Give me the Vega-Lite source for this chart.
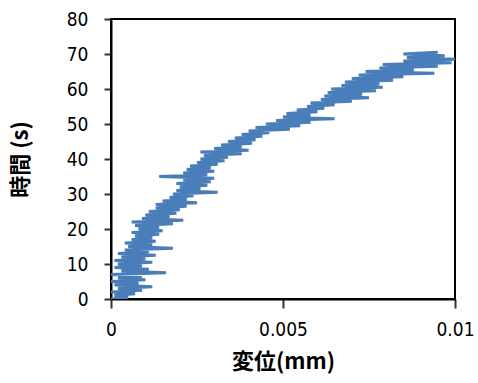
{
  "$schema": "https://vega.github.io/schema/vega-lite/v6.json",
  "width": 344,
  "height": 280,
  "autosize": "none",
  "padding": {"left": 111, "top": 19, "right": 23, "bottom": 84},
  "background": "white",
  "config": {
    "view": {"stroke": "black", "strokeWidth": 2},
    "axis": {
      "grid": false,
      "domainColor": "black",
      "domainWidth": 2,
      "tickColor": "#333",
      "tickWidth": 2,
      "labelFont": "Liberation Sans Narrow, DejaVu Sans Condensed, sans-serif",
      "labelFontSize": 19,
      "labelColor": "black",
      "titleFont": "Noto Sans CJK JP",
      "titleFontSize": 22,
      "titleFontWeight": "bold",
      "titleColor": "black"
    }
  },
  "data": {
    "values": [
      {"t":0,"d":0},{"t":0.5,"d":0.0005},{"t":1,"d":0.0001},{"t":1.5,"d":0.0007},{"t":2,"d":0},{"t":2.5,"d":0.0009},{"t":3,"d":0.0002},{"t":3.5,"d":0.0012},{"t":4,"d":0.0001},{"t":4.5,"d":0.0008},
      {"t":5,"d":0},{"t":5.5,"d":0.001},{"t":6,"d":0.0002},{"t":6.5,"d":0.0009},{"t":7,"d":0},{"t":7.5,"d":0.0016},{"t":8,"d":0.0003},{"t":8.5,"d":0.0011},{"t":9,"d":0.0001},{"t":9.5,"d":0.0009},
      {"t":10,"d":0.0002},{"t":10.5,"d":0.0012},{"t":11,"d":0.0001},{"t":11.5,"d":0.001},{"t":12,"d":0.0003},{"t":12.5,"d":0.0013},{"t":13,"d":0.0002},{"t":13.5,"d":0.0011},{"t":14,"d":0.0004},{"t":14.5,"d":0.0018},
      {"t":15,"d":0.0005},{"t":15.5,"d":0.0012},{"t":16,"d":0.0004},{"t":16.5,"d":0.0013},{"t":17,"d":0.0006},{"t":17.5,"d":0.0012},{"t":18,"d":0.0007},{"t":18.5,"d":0.0014},{"t":19,"d":0.0006},{"t":19.5,"d":0.0015},
      {"t":20,"d":0.0008},{"t":20.5,"d":0.0014},{"t":21,"d":0.0007},{"t":21.5,"d":0.0018},{"t":22,"d":0.0006},{"t":22.5,"d":0.0021},{"t":23,"d":0.0009},{"t":23.5,"d":0.0017},{"t":24,"d":0.001},{"t":24.5,"d":0.0019},
      {"t":25,"d":0.0011},{"t":25.5,"d":0.002},{"t":26,"d":0.0013},{"t":26.5,"d":0.0022},{"t":27,"d":0.0013},{"t":27.5,"d":0.0025},{"t":28,"d":0.0015},{"t":28.5,"d":0.0022},{"t":29,"d":0.0017},{"t":29.5,"d":0.0024},
      {"t":30,"d":0.0018},{"t":30.5,"d":0.0031},{"t":31,"d":0.0019},{"t":31.5,"d":0.0026},{"t":32,"d":0.002},{"t":32.5,"d":0.0028},{"t":33,"d":0.0019},{"t":33.5,"d":0.0029},{"t":34,"d":0.0021},{"t":34.5,"d":0.003},
      {"t":35,"d":0.0014},{"t":35.5,"d":0.0028},{"t":36,"d":0.0021},{"t":36.5,"d":0.003},{"t":37,"d":0.0022},{"t":37.5,"d":0.0029},{"t":38,"d":0.0023},{"t":38.5,"d":0.0031},{"t":39,"d":0.0025},{"t":39.5,"d":0.0033},
      {"t":40,"d":0.0026},{"t":40.5,"d":0.0034},{"t":41,"d":0.0027},{"t":41.5,"d":0.0038},{"t":42,"d":0.0026},{"t":42.5,"d":0.004},{"t":43,"d":0.003},{"t":43.5,"d":0.0038},{"t":44,"d":0.0032},{"t":44.5,"d":0.0041},
      {"t":45,"d":0.0034},{"t":45.5,"d":0.0042},{"t":46,"d":0.0036},{"t":46.5,"d":0.0044},{"t":47,"d":0.0038},{"t":47.5,"d":0.0046},{"t":48,"d":0.004},{"t":48.5,"d":0.0052},{"t":49,"d":0.0042},{"t":49.5,"d":0.0055},
      {"t":50,"d":0.0045},{"t":50.5,"d":0.0058},{"t":51,"d":0.0048},{"t":51.5,"d":0.0065},{"t":52,"d":0.005},{"t":52.5,"d":0.0058},{"t":53,"d":0.0051},{"t":53.5,"d":0.006},{"t":54,"d":0.0054},{"t":54.5,"d":0.0062},
      {"t":55,"d":0.0057},{"t":55.5,"d":0.0065},{"t":56,"d":0.0058},{"t":56.5,"d":0.007},{"t":57,"d":0.0061},{"t":57.5,"d":0.0075},{"t":58,"d":0.0062},{"t":58.5,"d":0.0073},{"t":59,"d":0.0063},{"t":59.5,"d":0.0077},
      {"t":60,"d":0.0064},{"t":60.5,"d":0.0079},{"t":61,"d":0.0067},{"t":61.5,"d":0.0078},{"t":62,"d":0.0068},{"t":62.5,"d":0.0082},{"t":63,"d":0.007},{"t":63.5,"d":0.0085},{"t":64,"d":0.0072},{"t":64.5,"d":0.0094},
      {"t":65,"d":0.0074},{"t":65.5,"d":0.0088},{"t":66,"d":0.0078},{"t":66.5,"d":0.0095},{"t":67,"d":0.0079},{"t":67.5,"d":0.0099},{"t":68,"d":0.0085},{"t":68.5,"d":0.01},{"t":69,"d":0.0086},{"t":69.5,"d":0.0097},
      {"t":70,"d":0.0085},{"t":70.5,"d":0.0095}
    ]
  },
  "mark": {"type": "line", "color": "#4a7ebb", "strokeWidth": 3.2, "clip": true},
  "encoding": {
    "x": {
      "field": "d", "type": "quantitative",
      "scale": {"domain": [0, 0.01], "nice": false},
      "axis": {"values": [0, 0.005, 0.01], "format": "~g", "title": "変位(mm)", "tickSize": 9, "labelPadding": 12, "titlePadding": 12, "labelFlush": false}
    },
    "y": {
      "field": "t", "type": "quantitative",
      "scale": {"domain": [0, 80], "nice": false},
      "axis": {"values": [0,10,20,30,40,50,60,70,80], "title": "時間 (s)", "tickSize": 7, "labelPadding": 16, "titlePadding": 34, "labelFlush": false}
    },
    "order": {"field": "t", "type": "quantitative"}
  }
}
